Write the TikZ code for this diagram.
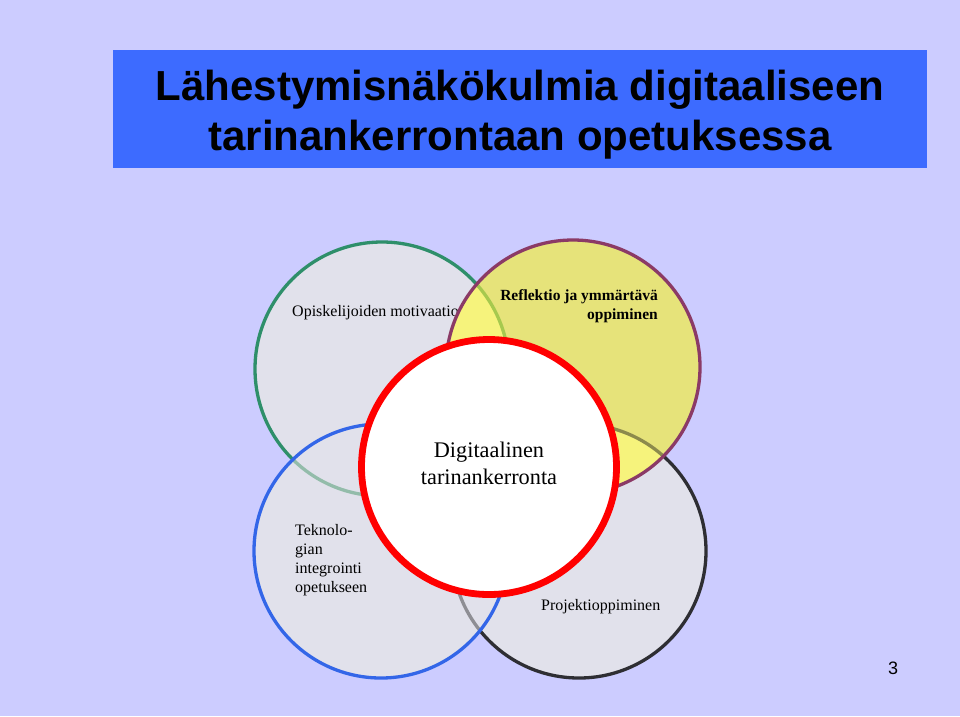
\documentclass[tikz,border=0pt]{standalone}
\usepackage{fontspec}
\setmainfont{Liberation Serif}
\newfontfamily\arialf{Liberation Sans}
\definecolor{bgc}{HTML}{CCCCFF}
\definecolor{titlec}{HTML}{3D6BFF}
\definecolor{grayc}{HTML}{E1E1EB}
\definecolor{yelc}{HTML}{E6E37A}
\definecolor{yelbright}{HTML}{F6F37C}
\definecolor{greenc}{HTML}{2E8F6A}
\definecolor{greenfade}{HTML}{A6C94E}
\definecolor{greenfadeb}{HTML}{93BCAA}
\definecolor{blackc}{HTML}{2E2E33}
\definecolor{blackfade}{HTML}{8C8A4C}
\definecolor{blackfadeb}{HTML}{8E8E94}
\definecolor{purplec}{HTML}{8B3A66}
\definecolor{bluec}{HTML}{3366E8}
\definecolor{redc}{HTML}{FF0000}
\tikzset{
  ring/.style={line width=3.3pt},
  lbl/.style={font=\fontsize{16}{19}\selectfont, inner sep=0pt},
}
\begin{document}
\begin{tikzpicture}[x=1pt,y=-1pt]
\useasboundingbox (0,0) rectangle (960,716);
\fill[bgc] (0,0) rectangle (960,716);
% title
\fill[titlec] (113,50) rectangle (927,168);
\node[font=\arialf\bfseries\fontsize{42}{50}\selectfont, align=center, inner sep=0pt, anchor=base] (title) at (520,150) {Lähestymisnäkökulmia digitaaliseen\\tarinankerrontaan opetuksessa};
% gray fills
\fill[grayc] (382,369) circle[radius=127pt];
\fill[grayc] (579,551) circle[radius=127pt];
\fill[grayc] (381,551) circle[radius=127pt];
\draw[ring, greenc] (382,369) circle[radius=127pt];
\draw[ring, blackc] (579,551) circle[radius=127pt];
\node[lbl, anchor=base west] (motiv) at (292,316) {Opiskelijoiden motivaatio};
% yellow circle
\fill[yelc] (573,367) circle[radius=127pt];
\begin{scope}
  \clip (573,367) circle[radius=127pt];
  \fill[yelbright] (382,369) circle[radius=127pt];
  \fill[yelbright] (579,551) circle[radius=127pt];
  \draw[ring, greenfade] (382,369) circle[radius=127pt];
  \draw[ring, blackfade] (579,551) circle[radius=127pt];
\end{scope}
\draw[ring, purplec] (573,367) circle[radius=127pt];
% blue circle
\begin{scope}
  \clip (381,551) circle[radius=127pt];
  \fill[grayc] (381,551) circle[radius=127pt];
  \draw[ring, greenfadeb] (382,369) circle[radius=127pt];
  \draw[ring, blackfadeb] (579,551) circle[radius=127pt];
\end{scope}
\draw[ring, bluec] (381,551) circle[radius=127pt];
% labels
\node[lbl, font=\bfseries\fontsize{15.5}{19}\selectfont, align=right, anchor=base east] (refl) at (658,319) {Reflektio ja ymmärtävä\\oppiminen};
\node[lbl, align=left, anchor=base west] (tekno) at (295,592) {Teknolo-\\gian\\integrointi\\opetukseen};
\node[lbl, anchor=base west] (proj) at (541,610) {Projektioppiminen};
% red circle
\draw[line width=6.8pt, redc, fill=white] (489,467) circle[radius=127.5pt];
\node[font=\fontsize{22.3}{27}\selectfont, align=center, inner sep=0pt, anchor=base] (dig) at (489,484) {Digitaalinen\\tarinankerronta};
\node[font=\arialf\fontsize{18}{20}\selectfont, inner sep=0pt, anchor=base] (pg) at (893,674) {3};
\end{tikzpicture}
\end{document}
